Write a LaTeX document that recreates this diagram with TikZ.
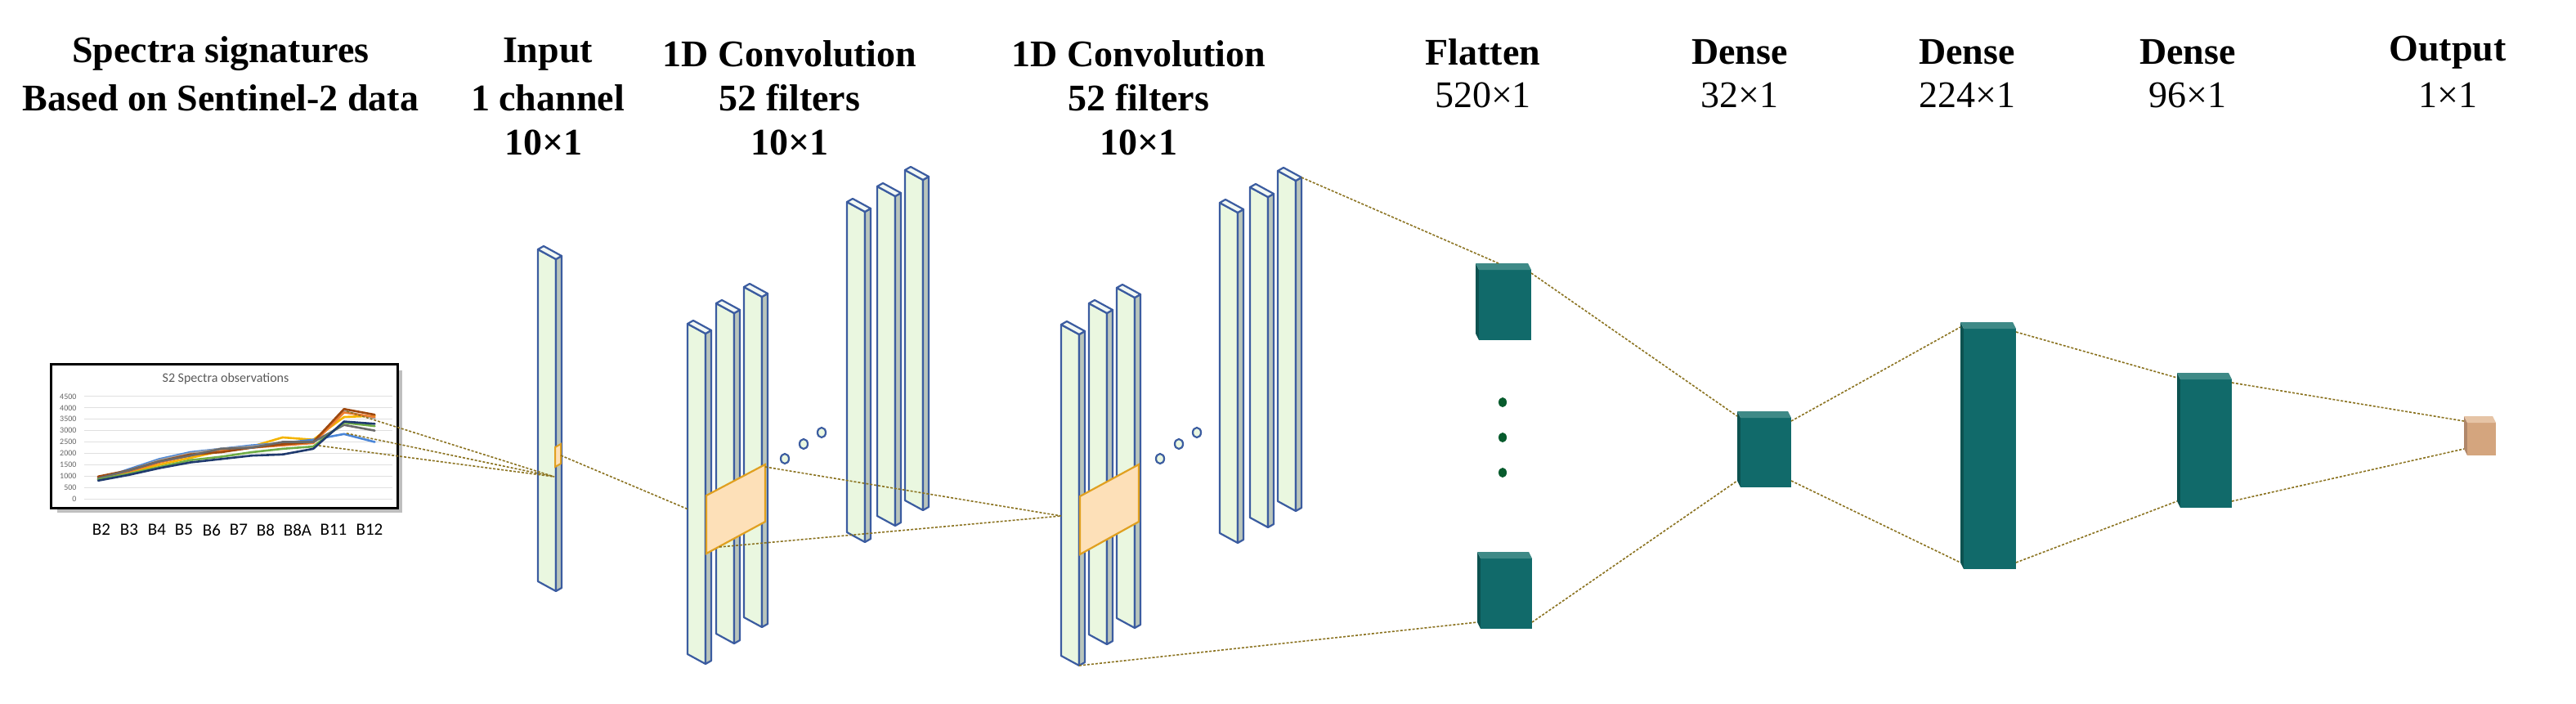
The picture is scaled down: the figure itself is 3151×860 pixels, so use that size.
\documentclass[tikz,border=0pt]{standalone}
\usepackage{fontspec}
\setmainfont{Liberation Serif}
\setsansfont{Carlito}
\begin{document}
\begin{tikzpicture}[x=1pt,y=-1pt,
  barline/.style={draw=barblue,line width=2.2pt,line join=round},
  conn/.style={draw=connc,line width=1.6pt,densely dashed},
  hb/.style={font=\fontsize{46}{54}\selectfont\bfseries,align=center,anchor=center},
  hr/.style={font=\fontsize{46}{54}\selectfont,anchor=center},
  dots/.style={draw=barblue,line width=2.2pt,fill=barfill}]
\definecolor{barblue}{HTML}{3B5CA0}
\definecolor{barfill}{HTML}{EAF7E0}
\definecolor{sidegray}{HTML}{B9C5BC}
\definecolor{capfill}{HTML}{F2F8F4}
\definecolor{orfill}{HTML}{FDE0B8}
\definecolor{orline}{HTML}{E0A020}
\definecolor{connc}{HTML}{8B7320}
\definecolor{teal}{HTML}{116A6A}
\definecolor{tealcap}{HTML}{3F8A87}
\definecolor{tealside}{HTML}{0C5250}
\definecolor{outc}{HTML}{D4A57E}
\definecolor{outccap}{HTML}{E6C4A6}
\definecolor{outcside}{HTML}{B0876A}
\useasboundingbox (0,0) rectangle (3151,860);
\fill[white] (0,0) rectangle (3151,860);
% bar macro
\newcommand\cbar[4]{%
 \pgfmathsetmacro\xa{#2}\pgfmathsetmacro\xb{#2+22}\pgfmathsetmacro\xc{#2+29}\pgfmathsetmacro\xd{#2+7}%
 \pgfmathsetmacro\ya{#3}\pgfmathsetmacro\yb{#3+12}\pgfmathsetmacro\yc{#3+8}\pgfmathsetmacro\yd{#3-4}%
 \pgfmathsetmacro\za{#4}\pgfmathsetmacro\zb{#4+12}\pgfmathsetmacro\zc{#4+8}%
 \draw[barline,fill=barfill] (\xa,\ya)--(\xb,\yb)--(\xb,\zb)--(\xa,\za)--cycle;
 \draw[barline,fill=sidegray] (\xb,\yb)--(\xc,\yc)--(\xc,\zc)--(\xb,\zb)--cycle;
 \draw[barline,fill=capfill] (\xa,\ya)--(\xd,\yd)--(\xc,\yc)--(\xb,\yb)--cycle;
 \coordinate (#1-tr) at (\xc,\yc);
 \coordinate (#1-br) at (\xb,\zb);
}
\newcommand\dbox[6]{% name x1 y1 x2 y2 colour
 \fill[#6side] (#2,#3)--(#2+4,#3+8)--(#2+4,#5)--(#2,#5-8)--cycle;
 \fill[#6] (#2+4,#3+8) rectangle (#4,#5);
 \fill[#6cap] (#2,#3)--(#4-4,#3)--(#4,#3+8)--(#2+4,#3+8)--cycle;
 \coordinate (#1-lt) at (#2,#3+6); \coordinate (#1-lb) at (#2,#5-8);
 \coordinate (#1-rt) at (#4,#3+12); \coordinate (#1-rb) at (#4,#5-8);
}
% ---------- chart
\fill[black!25] (70,453) rectangle (492,627);
\draw[black,line width=3pt,fill=white] (62,445) rectangle (486,621);
\node[font=\sffamily\fontsize{16}{18}\selectfont,text=black!65] (ctitle) at (276,463) {S2 Spectra observations};
\foreach \v in {0,500,...,4500}{
  \draw[black!12,line width=1pt] (103,{610-\v*0.02778}) -- (480,{610-\v*0.02778});
  \node[font=\sffamily\fontsize{10}{11}\selectfont,text=black!60,anchor=east] at (97,{610-\v*0.02778}) {\v};
}
\foreach \c/\d in {
 F4B400/{900,1150,1500,1800,2100,2300,2700,2600,3600,3650},
 4A86D8/{850,1300,1750,2050,2200,2350,2450,2600,2850,2500},
 A5A5A5/{950,1250,1700,2000,2200,2300,2450,2500,3850,3550},
 ED7D31/{950,1200,1600,1900,2100,2250,2350,2450,3800,3600},
 9E480E/{980,1250,1650,1950,2050,2250,2400,2500,3950,3700},
 6A6A6A/{900,1250,1650,1900,2200,2250,2500,2500,3250,3000},
 70AD47/{850,1100,1400,1700,1850,2050,2200,2300,3350,3200},
 1F3A6E/{800,1050,1350,1600,1750,1900,1950,2200,3400,3300}}{
  \definecolor{lc}{HTML}{\c}
  \foreach[count=\i from 0, remember=\v as \lv (initially -1)] \v in \d {
    \ifnum\lv>-1
      \draw[lc,line width=2.6pt,line cap=round] ({120+(\i-1)*37.6},{610-\lv*0.02778}) -- ({120+\i*37.6},{610-\v*0.02778});
    \fi
  }
}
\foreach \b/\x in {B2/124,B3/158,B4/192,B5/225,B6/259,B7/292,B8/325,B8A/364,B11/408,B12/452}
  \node[font=\sffamily\fontsize{21}{23}\selectfont] at (\x,648) {\b};
\coordinate (s1) at (424,503); \coordinate (s2) at (424,530); \coordinate (s3) at (390,545);
% ---------- bars
\cbar{inp}{658}{305}{711}
\draw[orline,line width=2pt,fill=orfill] (679,547)--(686,543)--(686,567)--(679,571)--cycle;
\coordinate (inpo) at (686,557);
\coordinate (inin) at (678,583);
\cbar{c1a}{841}{396}{800}
\cbar{c1b}{876}{371}{775}
\cbar{c1c}{910}{351}{755}
\cbar{c1d}{1036}{247}{651}
\cbar{c1e}{1073}{228}{631}
\cbar{c1f}{1107}{208}{612}
\cbar{c2a}{1298}{397}{802}
\cbar{c2b}{1332}{371}{776}
\cbar{c2c}{1366}{352}{756}
\cbar{c2d}{1492}{248}{652}
\cbar{c2e}{1529}{229}{633}
\cbar{c2f}{1563}{209}{613}
\draw[orline,line width=2.2pt,fill=orfill] (864,606)--(936,568)--(936,638)--(864,677)--cycle;
\draw[orline,line width=2.2pt,fill=orfill] (1321,607)--(1393,568)--(1393,638)--(1321,678)--cycle;
\coordinate (o1t) at (936,571); \coordinate (o1b) at (880,669);
\coordinate (c1in) at (842,623); \coordinate (c2in) at (1298,631);
\foreach \p in {(960,561),(983,543),(1005,529),(1419,561),(1442,543),(1464,529)}
  \draw[dots] \p ellipse (5 and 6);
% ---------- dense
\dbox{fa}{1805}{322}{1873}{416}{teal}
\dbox{fb}{1807}{675}{1874}{769}{teal}
\dbox{d1}{2125}{503}{2191}{596}{teal}
\dbox{d2}{2398}{394}{2466}{696}{teal}
\dbox{d3}{2663}{456}{2730}{621}{teal}
\dbox{ou}{3014}{509}{3053}{557}{outc}
\foreach \y in {492,535,578} \fill[teal!70!green!60!black] (1838,\y) ellipse (5 and 6);
\coordinate (fatop) at (1833,322);
% ---------- connectors
\draw[conn] (s1) -- (inin); \draw[conn] (s2) -- (inin); \draw[conn] (s3) -- (inin);
\draw[conn] (inpo) -- (c1in);
\draw[conn] (o1t) -- (c2in); \draw[conn] (o1b) -- (c2in);
\draw[conn] (c2f-tr) -- (fatop);
\draw[conn] (c2a-br) -- (fb-lb);
\draw[conn] (fa-rt) -- (d1-lt); \draw[conn] (fb-rb) -- (d1-lb);
\draw[conn] (d1-rt) -- (d2-lt); \draw[conn] (d1-rb) -- (d2-lb);
\draw[conn] (d2-rt) -- (d3-lt); \draw[conn] (d2-rb) -- (d3-lb);
\draw[conn] (d3-rt) -- (ou-lt); \draw[conn] (d3-rb) -- (ou-lb);
% ---------- headers
\node[hb] (h0a) at (270,66) {Spectra signatures};
\node[hb] (h0b) at (270,120) {Based on Sentinel-2 data};
\node[hb] (h1a) at (670,66) {Input};
\node[hb] (h1b) at (670,120) {1 channel};
\node[hb] (h1c) at (665,174) {10×1};
\node[hb] (h2a) at (966,66) {1D Convolution};
\node[hb] (h2b) at (966,120) {52 filters};
\node[hb] (h2c) at (966,174) {10×1};
\node[hb] (h3a) at (1393,66) {1D Convolution};
\node[hb] (h3b) at (1393,120) {52 filters};
\node[hb] (h3c) at (1393,174) {10×1};
\node[hb] (h4a) at (1814,64) {Flatten};
\node[hr] (h4b) at (1814,116) {520×1};
\node[hb] (h5a) at (2128,64) {Dense};
\node[hr] (h5b) at (2128,116) {32×1};
\node[hb] (h6a) at (2406,64) {Dense};
\node[hr] (h6b) at (2406,116) {224×1};
\node[hb] (h7a) at (2676,64) {Dense};
\node[hr] (h7b) at (2676,116) {96×1};
\node[hb] (h8a) at (2994,64) {Output};
\node[hr] (h8b) at (2994,116) {1×1};
\end{tikzpicture}
\end{document}
